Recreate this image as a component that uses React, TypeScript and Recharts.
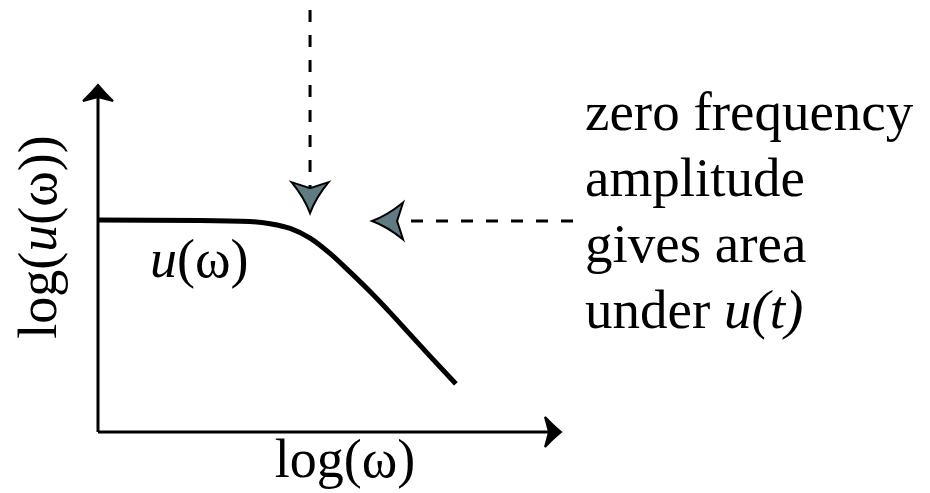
import { ComposedChart, Line, XAxis, YAxis, ReferenceLine } from 'recharts';

// log(omega) positions and log(u(omega)) magnitudes of the low-pass curve
const logOmega = [0, 2.2, 3.28, 3.72, 4.15, 4.58, 5.01, 5.44, 5.88, 6.31, 6.74, 7.17, 7.73];
const logU = [4.58, 4.57, 4.55, 4.5, 4.4, 4.19, 3.86, 3.46, 3.03, 2.58, 2.11, 1.64, 1.04];

// where the annotations point: the knee and the zero-frequency level
const kneeX = 4.58;
const kneeTipY = 4.73;
const kneeStartY = 9.12;
const zeroLevel = 4.56;
const zeroTipX = 5.92;
const zeroStartX = 10.26;

const textLines = ['zero frequency', 'amplitude', 'gives area'];

const curve = logOmega.map((x, i) => ({ x, y: logU[i] }));

const FONT = '"Liberation Serif", "Times New Roman", serif';
const ARROW_FILL = '#607c83';

type HeadOpts = { len: number; half: number; notch: number; bend: number };

const headPath = (tx: number, ty: number, dx: number, dy: number, o: HeadOpts) => {
  const px = -dy;
  const py = dx;
  const bx = tx - o.len * dx;
  const by = ty - o.len * dy;
  const w1x = bx + o.half * px;
  const w1y = by + o.half * py;
  const w2x = bx - o.half * px;
  const w2y = by - o.half * py;
  const nx = bx + o.notch * dx;
  const ny = by + o.notch * dy;
  // control points pulled toward the shaft for slightly concave sides
  const c1x = (tx + w1x) / 2 - o.bend * px;
  const c1y = (ty + w1y) / 2 - o.bend * py;
  const c2x = (tx + w2x) / 2 + o.bend * px;
  const c2y = (ty + w2y) / 2 + o.bend * py;
  return `M${tx},${ty} Q${c1x},${c1y} ${w1x},${w1y} L${nx},${ny} L${w2x},${w2y} Q${c2x},${c2y} ${tx},${ty} Z`;
};

const arrowShape =
  (o: HeadOpts, fill: string, dash?: string, width = 3) =>
  (props: any) => {
    const { x1, y1, x2, y2 } = props;
    const len = Math.hypot(x2 - x1, y2 - y1) || 1;
    const dx = (x2 - x1) / len;
    const dy = (y2 - y1) / len;
    const ex = x2 - (o.len - o.notch) * dx;
    const ey = y2 - (o.len - o.notch) * dy;
    return (
      <g>
        <line x1={x1} y1={y1} x2={ex} y2={ey} stroke="#000" strokeWidth={width} strokeDasharray={dash} />
        <path d={headPath(x2, y2, dx, dy, o)} fill={fill} stroke="#000" strokeWidth={2} strokeLinejoin="miter" />
      </g>
    );
  };

const axisHead: HeadOpts = { len: 16, half: 15, notch: 4, bend: 1 };
const noteHead: HeadOpts = { len: 31, half: 18.5, notch: 6, bend: 3.5 };

export default function App() {
  return (
    <div style={{ position: 'absolute', left: 0, top: 0, width: 930, height: 493, background: '#fff' }}>
      <ComposedChart
        width={930}
        height={493}
        data={curve}
        margin={{ top: 85, right: 369, bottom: 61, left: 98 }}
      >
        <XAxis type="number" dataKey="x" domain={[0, 10]} hide />
        <YAxis type="number" domain={[0, 7.5]} hide />

        <ReferenceLine
          segment={[{ x: 0, y: 0 }, { x: 0, y: 7.5 }]}
          ifOverflow="visible"
          shape={arrowShape(axisHead, '#000')}
        />
        <ReferenceLine
          segment={[{ x: 0, y: 0 }, { x: 10, y: 0 }]}
          ifOverflow="visible"
          shape={arrowShape(axisHead, '#000')}
        />

        <Line
          type="monotone"
          dataKey="y"
          stroke="#000"
          strokeWidth={5}
          strokeLinecap="butt"
          dot={false}
          activeDot={false}
          isAnimationActive={false}
        />

        <ReferenceLine
          segment={[{ x: kneeX, y: kneeStartY }, { x: kneeX, y: kneeTipY }]}
          ifOverflow="visible"
          shape={arrowShape(noteHead, ARROW_FILL, '12 13')}
        />
        <ReferenceLine
          segment={[{ x: zeroStartX, y: zeroLevel }, { x: zeroTipX, y: zeroLevel }]}
          ifOverflow="visible"
          shape={arrowShape(noteHead, ARROW_FILL, '12 13')}
        />

        <text x={345} y={477} fontFamily={FONT} fontSize={54} textAnchor="middle" fill="#000">
          log(ω)
        </text>
        <text
          x={56}
          y={237}
          transform="rotate(-90 56 237)"
          fontFamily={FONT}
          fontSize={54}
          textAnchor="middle"
          fill="#000"
        >
          log(<tspan fontStyle="italic">u</tspan>(ω))
        </text>
        <text x={150} y={277} fontFamily={FONT} fontSize={54} fill="#000">
          <tspan fontStyle="italic">u</tspan>(ω)
        </text>

        {textLines.map((t, i) => (
          <text key={t} x={585} y={130 + i * 66} fontFamily={FONT} fontSize={55} fill="#000">
            {t}
          </text>
        ))}
        <text x={585} y={328} fontFamily={FONT} fontSize={55} fill="#000">
          under <tspan fontStyle="italic">u(t)</tspan>
        </text>
      </ComposedChart>
    </div>
  );
}
